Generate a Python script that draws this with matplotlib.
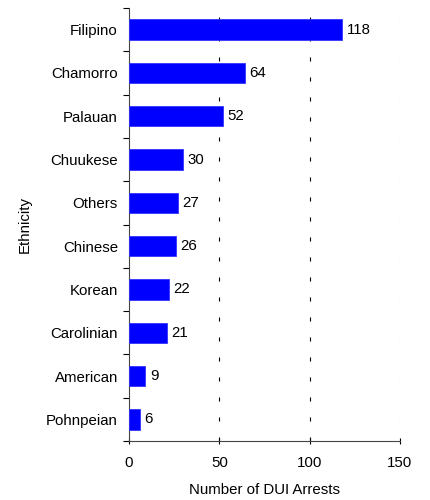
import numpy as np
import matplotlib
matplotlib.use('Agg')
import matplotlib.pyplot as plt

plt.rcParams['font.family'] = ['Liberation Sans', 'DejaVu Sans']

ethnicity = ['Filipino', 'Chamorro', 'Palauan', 'Chuukese', 'Others',
             'Chinese', 'Korean', 'Carolinian', 'American', 'Pohnpeian']
arrests = [118, 64, 52, 30, 27, 26, 22, 21, 9, 6]

FS = 10.8

fig = plt.figure(figsize=(4.3, 5), dpi=100)
ax = fig.add_axes([0.3, 0.118, 0.63, 0.866])

y = np.arange(len(ethnicity))
ax.barh(y, arrests, height=0.47, color='#0000ff', edgecolor='#3333ff', linewidth=0.6, zorder=3)
for yi, v in zip(y, arrests):
    ax.text(v + 2.5, yi, str(v), va='center', ha='left', fontsize=FS)

ax.set_ylim(len(ethnicity) - 0.5, -0.5)
ax.set_xlim(0, 150)
ax.set_xticks([0, 50, 100, 150])
ax.set_yticks(y)
ax.set_yticklabels(ethnicity, fontsize=FS)
ax.set_yticks(np.arange(-0.5, len(ethnicity), 1), minor=True)
ax.tick_params(axis='y', which='major', length=0, pad=8)
ax.tick_params(axis='y', which='minor', length=4, direction='out', width=0.8)
ax.tick_params(axis='x', length=4, direction='inout', width=0.8, labelsize=FS, pad=9)

for gx in [50, 100]:
    ax.axvline(gx, color='black', linestyle=(0, (3.6, 14.4)), linewidth=0.8, zorder=1)
ax.axvline(150, color='#c0c0c0', linestyle=(0, (3.6, 14.4)), linewidth=0.8, zorder=1)

ax.spines['top'].set_visible(False)
ax.spines['right'].set_visible(False)
ax.spines['left'].set_color('#444444')
ax.spines['bottom'].set_color('#444444')

ax.set_xlabel('Number of DUI Arrests', fontsize=FS, labelpad=9)
ax.set_ylabel('Ethnicity', fontsize=FS, labelpad=10)

fig.savefig('out.png', dpi=100)
